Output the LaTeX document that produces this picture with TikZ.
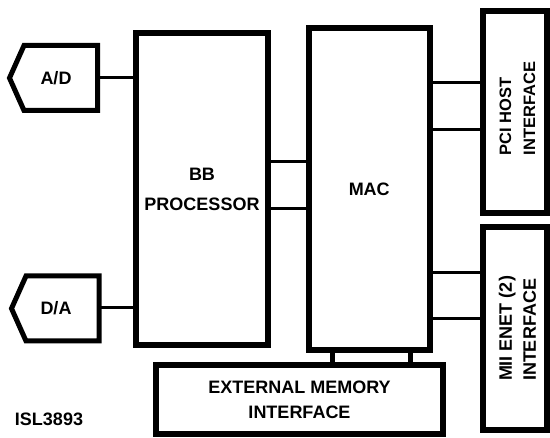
\documentclass[tikz,border=0pt]{standalone}
\usepackage{fontspec}
\setmainfont{Liberation Sans}
\begin{document}
\begin{tikzpicture}[x=1pt,y=-1pt,
  blk/.style={draw=black, line width=6pt, inner sep=0pt, outer sep=0pt, fill=white,
    font=\bfseries\fontsize{18}{30}\selectfont, align=center},
  conv/.style={inner sep=0pt, outer sep=0pt, font=\bfseries\fontsize{18}{22}\selectfont},
  wire/.style={line width=3pt},
  bus/.style={line width=5pt},
  side/.style={rotate=90, align=left, inner sep=0pt}]
\useasboundingbox (0,0) rectangle (550,438);
% main blocks
\node[blk, minimum width=132pt, minimum height=312pt] (bb) at (202,189) {BB\\PROCESSOR};
\node[blk, minimum width=121.5pt, minimum height=322pt] (mac) at (369.25,189) {MAC};
\node[blk, minimum width=64pt, minimum height=202.5pt] (pci) at (515,112.25) {};
\node[blk, minimum width=64pt, minimum height=203pt] (mii) at (515,328.5) {};
\node[blk, minimum width=287pt, minimum height=69pt, font=\bfseries\fontsize{18}{25}\selectfont] (ext) at (299.5,399.5) {EXTERNAL MEMORY\\INTERFACE};
% side labels
\node[side, font=\bfseries\fontsize{16.5}{24}\selectfont] (pcit) at (517.5,108.5) {PCI HOST\\INTERFACE};
\node[side, font=\bfseries\fontsize{18}{24}\selectfont] (miit) at (517.5,328.5) {MII ENET (2)\\INTERFACE};
% converters
\node[conv, minimum width=73.5pt, minimum height=65pt] (ad) at (60.75,78) {};
\node[conv] (adt) at (56,78) {A/D};
\node[conv, minimum width=73pt, minimum height=65pt] (da) at (62.5,308.5) {};
\node[conv] (dat) at (56,308) {D/A};
\draw[line width=5pt, line join=miter] (ad.north west) -- (ad.north east) -- (ad.south east) -- (ad.south west) -- ([xshift=-14.5pt]ad.west) -- cycle;
\draw[line width=5pt, line join=miter] (da.north west) -- (da.north east) -- (da.south east) -- (da.south west) -- ([xshift=-14.5pt]da.west) -- cycle;
% wires
\draw[wire] (ad.east |- 0,77.5) -- (bb.west |- 0,77.5);
\draw[wire] (da.east |- 0,308) -- (bb.west |- 0,308);
\draw[wire] (bb.east |- 0,162) -- (mac.west |- 0,162);
\draw[wire] (bb.east |- 0,209) -- (mac.west |- 0,209);
\draw[wire] (mac.east |- 0,83) -- (pci.west |- 0,83);
\draw[wire] (mac.east |- 0,130) -- (pci.west |- 0,130);
\draw[wire] (mac.east |- 0,273) -- (mii.west |- 0,273);
\draw[wire] (mac.east |- 0,319) -- (mii.west |- 0,319);
\draw[bus] (mac.south -| 332,0) -- (ext.north -| 332,0);
\draw[bus] (mac.south -| 410,0) -- (ext.north -| 410,0);
% caption
\node[conv] (cap) at (49,419) {ISL3893};
\end{tikzpicture}
\end{document}
